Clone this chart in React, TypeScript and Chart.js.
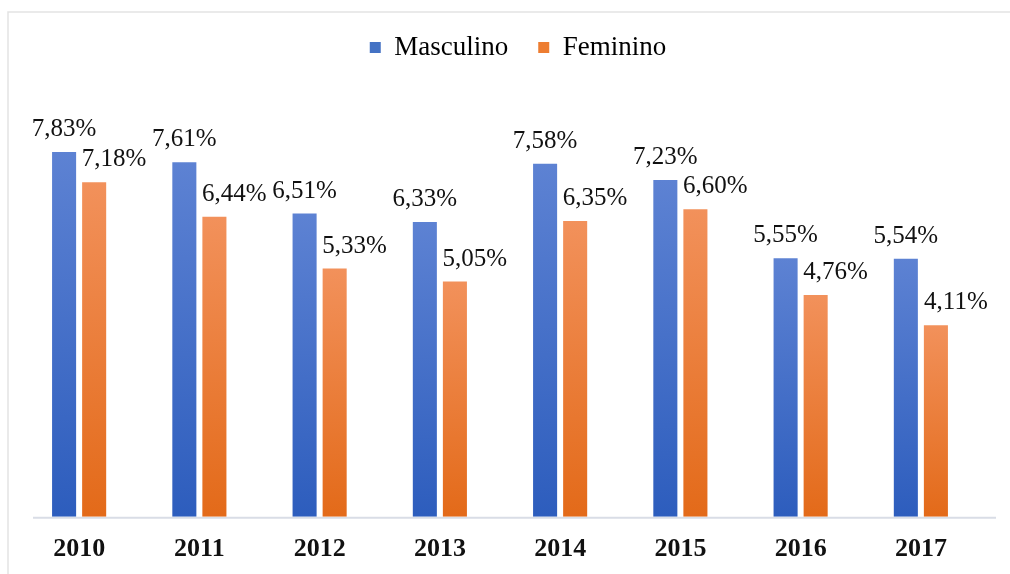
import React, { useEffect, useRef } from "react";
import { Chart, registerables } from "chart.js";

Chart.register(...registerables);

const categories = ["2010", "2011", "2012", "2013", "2014", "2015", "2016", "2017"];
const masculino = [7.83, 7.61, 6.51, 6.33, 7.58, 7.23, 5.55, 5.54];
const feminino = [7.18, 6.44, 5.33, 5.05, 6.35, 6.6, 4.76, 4.11];
const seriesNames = ["Masculino", "Feminino"];

const FONT = "'Liberation Serif', 'Times New Roman', serif";

const gradientFill = (top: string, bottom: string, flat: string) => (ctx: any) => {
  const chart = ctx.chart;
  const y = chart.scales && chart.scales.y;
  if (!y || !chart.chartArea || ctx.raw == null) return flat;
  const yTop = y.getPixelForValue(ctx.raw);
  const yBot = y.getPixelForValue(0);
  if (!isFinite(yTop) || !isFinite(yBot) || yTop === yBot) return flat;
  const g = chart.ctx.createLinearGradient(0, yTop, 0, yBot);
  g.addColorStop(0, top);
  g.addColorStop(1, bottom);
  return g;
};

const framePlugin = {
  id: "frame",
  afterLayout(chart: any) {
    if (chart.legend) {
      chart.legend.left += 18;
      chart.legend.right += 18;
    }
  },
  beforeDraw(chart: any) {
    const c = chart.ctx;
    c.save();
    c.fillStyle = "#ffffff";
    c.fillRect(0, 0, chart.width, chart.height);
    c.strokeStyle = "#e3e3e3";
    c.lineWidth = 1.5;
    c.beginPath();
    c.moveTo(8, chart.height);
    c.lineTo(8, 12);
    c.lineTo(chart.width, 12);
    c.stroke();
    const yb = chart.scales.y.getPixelForValue(0);
    c.strokeStyle = "#d9dde6";
    c.lineWidth = 2;
    c.beginPath();
    c.moveTo(33, yb + 1);
    c.lineTo(996, yb + 1);
    c.stroke();
    c.restore();
  },
};

const labelPlugin = {
  id: "valueLabels",
  afterDatasetsDraw(chart: any) {
    const c = chart.ctx;
    c.save();
    c.font = `25px ${FONT}`;
    c.fillStyle = "#111111";
    c.textAlign = "center";
    c.textBaseline = "alphabetic";
    const offsets = [0, 20];
    chart.data.datasets.forEach((ds: any, di: number) => {
      const meta = chart.getDatasetMeta(di);
      meta.data.forEach((bar: any, i: number) => {
        const v = ds.data[i];
        const txt = v.toFixed(2).replace(".", ",") + "%";
        c.fillText(txt, bar.x + offsets[di], bar.y - 16);
      });
    });
    c.restore();
  },
};

export default function App() {
  const ref = useRef<HTMLCanvasElement>(null);
  useEffect(() => {
    document.body.style.margin = "0";
    const chart = new Chart(ref.current!, {
      type: "bar",
      data: {
        labels: categories,
        datasets: [
          {
            label: seriesNames[0],
            data: masculino,
            backgroundColor: gradientFill("#5d82d3", "#2d5dbd", "#4472c4"),
            borderWidth: 0,
            categoryPercentage: 0.5,
            barPercentage: 0.8,
          },
          {
            label: seriesNames[1],
            data: feminino,
            backgroundColor: gradientFill("#f2915b", "#e36a19", "#ed7d31"),
            borderWidth: 0,
            categoryPercentage: 0.5,
            barPercentage: 0.8,
          },
        ],
      },
      options: {
        animation: false,
        responsive: false,
        maintainAspectRatio: false,
        layout: { padding: { top: 4, left: 19, right: 29, bottom: -8 } },
        plugins: {
          legend: {
            display: true,
            position: "top",
            labels: {
              font: { family: FONT, size: 27 },
              color: "#111111",
              boxWidth: 11,
              boxHeight: 11,
              padding: 30,
              generateLabels: (chart: any) =>
                chart.data.datasets.map((ds: any, i: number) => ({
                  text: ds.label,
                  fillStyle: i === 0 ? "#4472c4" : "#ed7d31",
                  strokeStyle: "transparent",
                  lineWidth: 0,
                  datasetIndex: i,
                  hidden: false,
                })),
            },
          },
          tooltip: { enabled: false },
        },
        scales: {
          x: {
            grid: { display: false, drawTicks: false },
            border: { display: false },
            ticks: {
              font: { family: FONT, size: 26, weight: "bold" },
              color: "#111111",
              padding: 17,
            },
          },
          y: {
            display: false,
            min: 0,
            max: 9.57,
          },
        },
      },
      plugins: [framePlugin, labelPlugin],
    });
    return () => chart.destroy();
  }, []);
  return <canvas ref={ref} width={1010} height={574} style={{ display: "block" }} />;
}
